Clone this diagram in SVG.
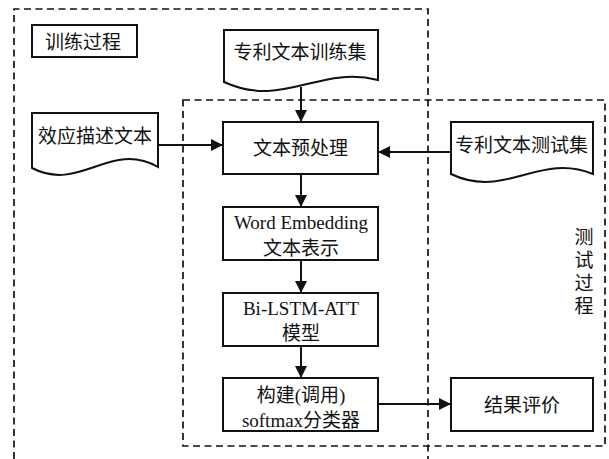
<svg xmlns="http://www.w3.org/2000/svg" width="609" height="459" viewBox="0 0 609 459">
  <style>
    .box { fill: #fff; stroke: #111; stroke-width: 2; }
    .region { fill: none; stroke: #111; stroke-width: 1.7; stroke-dasharray: 7 4.5; }
    .link { fill: none; stroke: #111; stroke-width: 2; }
    text { font-family: "Liberation Serif", "Noto Sans CJK SC", serif; font-size: 19px; fill: #111; text-anchor: middle; }
  </style>
  <defs>
    <marker id="arrow" markerUnits="userSpaceOnUse" markerWidth="12" markerHeight="12" refX="12" refY="6" orient="auto">
      <path d="M0,0 L12,6 L0,12 Z" fill="#111"/>
    </marker>
  </defs>

  <!-- process regions -->
  <g id="regions">
    <path class="region" d="M14,459 V9 H428 V459"/>
    <rect class="region" x="183" y="100" width="422" height="346"/>
  </g>

  <!-- connectors -->
  <g id="connectors">
    <line class="link" x1="301" y1="87" x2="301" y2="122" marker-end="url(#arrow)"/>
    <line class="link" x1="158" y1="145" x2="223" y2="145" marker-end="url(#arrow)"/>
    <line class="link" x1="451" y1="152" x2="378" y2="152" marker-end="url(#arrow)"/>
    <line class="link" x1="301" y1="174" x2="301" y2="207" marker-end="url(#arrow)"/>
    <line class="link" x1="301" y1="260" x2="301" y2="293" marker-end="url(#arrow)"/>
    <line class="link" x1="301" y1="346" x2="301" y2="378" marker-end="url(#arrow)"/>
    <line class="link" x1="378" y1="404" x2="451" y2="404" marker-end="url(#arrow)"/>
  </g>

  <g id="train-label">
    <rect class="box" x="32" y="25" width="105" height="32"/>
    <text x="83" y="49">训练过程</text>
  </g>

  <g id="train-set">
    <path class="box" d="M224,30 H378 V80 C319,65 283,109 224,82 Z"/>
    <text x="300" y="59">专利文本训练集</text>
  </g>

  <g id="effect-text">
    <path class="box" d="M32,113 H158 V167 C110,140 80,193 32,168 Z"/>
    <text x="95" y="143">效应描述文本</text>
  </g>

  <g id="preprocess">
    <rect class="box" x="223" y="122" width="155" height="52"/>
    <text x="300.5" y="154.5">文本预处理</text>
  </g>

  <g id="test-set">
    <path class="box" d="M451,122 H593 V174 C539,152 505,200 451,174 Z"/>
    <text x="521.5" y="152">专利文本测试集</text>
  </g>

  <g id="embedding">
    <rect class="box" x="223" y="207" width="155" height="53"/>
    <text x="301" y="229">Word Embedding</text>
    <text x="301" y="255">文本表示</text>
  </g>

  <g id="bilstm">
    <rect class="box" x="223" y="293" width="155" height="53"/>
    <text x="301" y="315">Bi-LSTM-ATT</text>
    <text x="301" y="340">模型</text>
  </g>

  <g id="softmax">
    <rect class="box" x="223" y="378" width="155" height="53"/>
    <text x="301" y="402">构建(调用)</text>
    <text x="301" y="427">softmax分类器</text>
  </g>

  <g id="evaluation">
    <rect class="box" x="451" y="378" width="142" height="53"/>
    <text x="522" y="412">结果评价</text>
  </g>

  <g id="test-label">
    <text x="584" y="244">测</text>
    <text x="584" y="267">试</text>
    <text x="584" y="290">过</text>
    <text x="584" y="313">程</text>
  </g>
</svg>
